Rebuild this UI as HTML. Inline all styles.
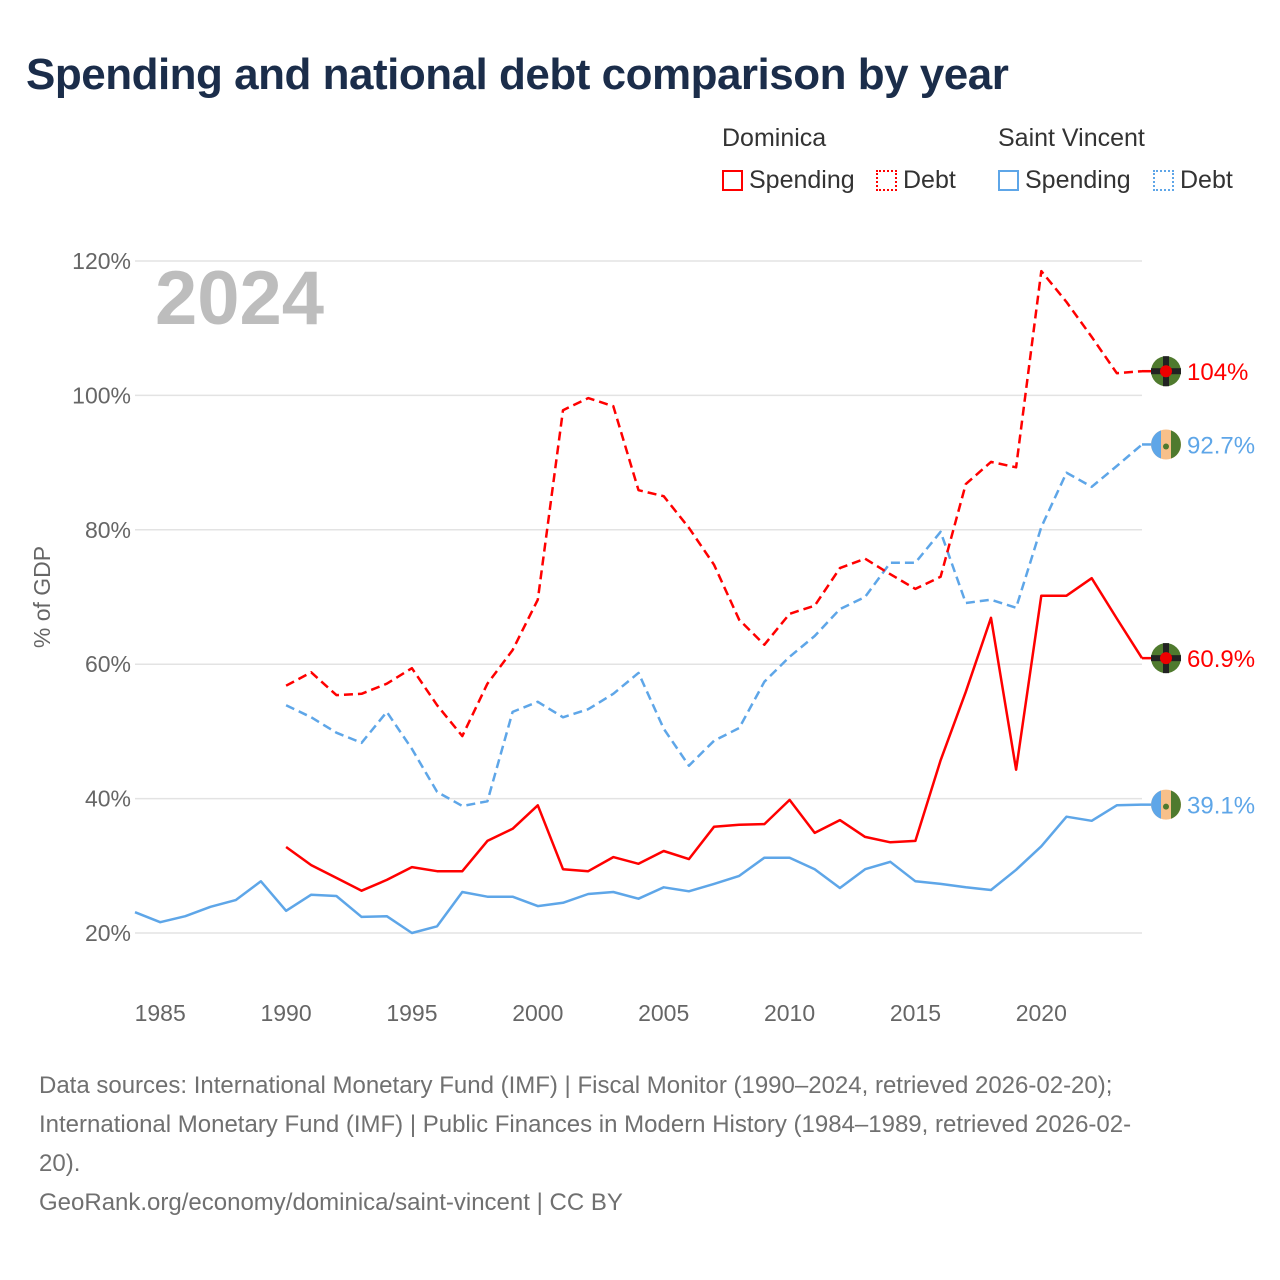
<!DOCTYPE html>
<html><head><meta charset="utf-8"><style>
body{margin:0;background:#fff;font-family:"Liberation Sans",sans-serif;}
#wrap{position:relative;width:1280px;height:1280px;overflow:hidden;}
.t{position:absolute;white-space:nowrap;}
</style></head><body>
<div id="wrap">
<div class="t" style="left:26px;top:50px;font-size:44px;font-weight:bold;color:#1b2d4a;letter-spacing:-0.5px;">Spending and national debt comparison by year</div>
<div class="t" style="left:722px;top:124px;font-size:25px;color:#333;">Dominica</div>
<div class="t" style="left:998px;top:124px;font-size:25px;color:#333;">Saint Vincent</div>
<div class="t" style="left:722px;top:166px;font-size:25px;color:#333;"><span style="display:inline-block;width:21px;height:21px;border:2px solid #f00;box-sizing:border-box;vertical-align:-3px;margin-right:6px"></span>Spending</div>
<div class="t" style="left:876px;top:166px;font-size:25px;color:#333;"><span style="display:inline-block;width:21px;height:21px;border:2px dotted #f00;box-sizing:border-box;vertical-align:-3px;margin-right:6px"></span>Debt</div>
<div class="t" style="left:998px;top:166px;font-size:25px;color:#333;"><span style="display:inline-block;width:21px;height:21px;border:2px solid #5ea6e8;box-sizing:border-box;vertical-align:-3px;margin-right:6px"></span>Spending</div>
<div class="t" style="left:1153px;top:166px;font-size:25px;color:#333;"><span style="display:inline-block;width:21px;height:21px;border:2px dotted #5ea6e8;box-sizing:border-box;vertical-align:-3px;margin-right:6px"></span>Debt</div>
<svg id="chart" width="1280" height="1280" style="position:absolute;left:0;top:0"></svg>
<div class="t" style="left:39px;top:1066px;font-size:24px;line-height:39px;color:#707070;">Data sources: International Monetary Fund (IMF) | Fiscal Monitor (1990–2024, retrieved 2026-02-20);<br>International Monetary Fund (IMF) | Public Finances in Modern History (1984–1989, retrieved 2026-02-<br>20).<br>GeoRank.org/economy/dominica/saint-vincent | CC BY</div>
</div>
<script>
const yTicks=[20,40,60,80,100,120];
const xTicks=[1985,1990,1995,2000,2005,2010,2015,2020];
const domSpending=[32.8,30.1,28.2,26.3,27.9,29.8,29.2,29.2,33.7,35.5,39.0,29.5,29.2,31.3,30.3,32.2,31.0,35.8,36.1,36.2,39.8,34.9,36.8,34.3,33.5,33.7,45.7,55.9,66.9,44.3,70.2,70.2,72.8,66.8,60.9];
const domDebt=[56.8,58.8,55.4,55.6,57.1,59.4,53.9,49.3,57.1,62.1,69.6,97.8,99.6,98.4,85.9,85.0,80.3,74.8,66.6,62.9,67.5,68.7,74.3,75.7,73.4,71.2,73.0,86.8,90.1,89.3,118.5,113.9,108.7,103.3,103.6];
const svSpending=[23.1,21.6,22.5,23.9,24.9,27.7,23.3,25.7,25.5,22.4,22.5,20.0,21.0,26.1,25.4,25.4,24.0,24.5,25.8,26.1,25.1,26.8,26.2,27.3,28.5,31.2,31.2,29.5,26.7,29.5,30.6,27.7,27.3,26.8,26.4,29.4,32.9,37.3,36.7,39.0,39.1];
const svDebt=[53.9,52.1,49.8,48.3,52.9,47.4,41.0,38.9,39.6,52.9,54.4,52.1,53.3,55.6,58.7,50.4,44.9,48.6,50.5,57.4,61.1,64.2,68.2,70.0,75.1,75.1,79.7,69.1,69.6,68.4,80.4,88.5,86.4,89.5,92.7];
const endLabels=["104%","92.7%","60.9%","39.1%"];
const NS="http://www.w3.org/2000/svg";
const svg=document.getElementById('chart');
const X=y=>135+(y-1984)*25.175;
const Y=v=>933-(v-20)*6.72;
function mk(t,a){const e=document.createElementNS(NS,t);for(const k in a)e.setAttribute(k,a[k]);svg.appendChild(e);return e;}
yTicks.forEach(v=>{
 const g=mk('line',{x1:135,x2:1142,y1:Y(v),y2:Y(v),stroke:'#e3e3e3','stroke-width':1.5});
 
 
 const t=mk('text',{x:131,y:Y(v)+8,'text-anchor':'end','font-size':23,fill:'#666','font-family':'Liberation Sans, sans-serif'});
 t.textContent=v+'%';
 
 
});
xTicks.forEach(v=>{
 const t=mk('text',{x:X(v),y:1021,'text-anchor':'middle','font-size':23,fill:'#666','font-family':'Liberation Sans, sans-serif'});
 t.textContent=v;
 
 
});
const yl=mk('text',{transform:'translate(50,597) rotate(-90)','text-anchor':'middle','font-size':23,fill:'#666','font-family':'Liberation Sans, sans-serif'});
yl.textContent='% of GDP';


const yr=mk('text',{x:155,y:324,'font-size':76,'font-weight':'bold',fill:'#bdbdbd','font-family':'Liberation Sans, sans-serif'});
yr.textContent='2024';


function line(vals,start,color,dash,name){
 const d=vals.map((v,i)=>(i?'L':'M')+X(start+i).toFixed(1)+' '+Y(v).toFixed(1)).join(' ');
 const p=mk('path',{d:d,fill:'none',stroke:color,'stroke-width':2.5,'stroke-linejoin':'round'});
 if(dash)p.setAttribute('stroke-dasharray','9 5');
 
 
}
line(svDebt,1990,'#5ea6e8',true,'line-saint-vincent-debt');
line(domDebt,1990,'#f00',true,'line-dominica-debt');
line(svSpending,1984,'#5ea6e8',false,'line-saint-vincent-spending');
line(domSpending,1990,'#f00',false,'line-dominica-spending');
const ends=[[domDebt[domDebt.length-1],'#f00','dom'],[svDebt[svDebt.length-1],'#5ea6e8','sv'],[domSpending[domSpending.length-1],'#f00','dom'],[svSpending[svSpending.length-1],'#5ea6e8','sv']];
ends.forEach((e,i)=>{
 const cy=Y(e[0]);
 mk('line',{x1:1142,x2:1152,y1:cy,y2:cy,stroke:e[1],'stroke-width':2.5});
 if(e[2]==='dom'){
  const c=mk('circle',{cx:1166,cy:cy,r:15,fill:'#4f7a2e'});
  
  
  mk('rect',{x:1151,y:cy-3,width:30,height:6,fill:'#222'});
  mk('rect',{x:1163,y:cy-15,width:6,height:30,fill:'#222'});
  mk('circle',{cx:1166,cy:cy,r:6,fill:'#e00'});
 }else{
  const c=mk('circle',{cx:1166,cy:cy,r:15,fill:'#f8c08a'});
  
  
  mk('path',{d:`M1161 ${cy-14.1} A15 15 0 0 0 1161 ${cy+14.1} Z`,fill:'#5ea6e8'});
  mk('path',{d:`M1171 ${cy-14.1} A15 15 0 0 1 1171 ${cy+14.1} Z`,fill:'#4f7a2e'});
  mk('circle',{cx:1166,cy:cy+2,r:3,fill:'#4f7a2e'});
 }
 const t=mk('text',{x:1187,y:cy+9,'font-size':24,fill:e[1],'font-family':'Liberation Sans, sans-serif'});
 t.textContent=endLabels[i];
 
 
});
</script>
</body></html>
